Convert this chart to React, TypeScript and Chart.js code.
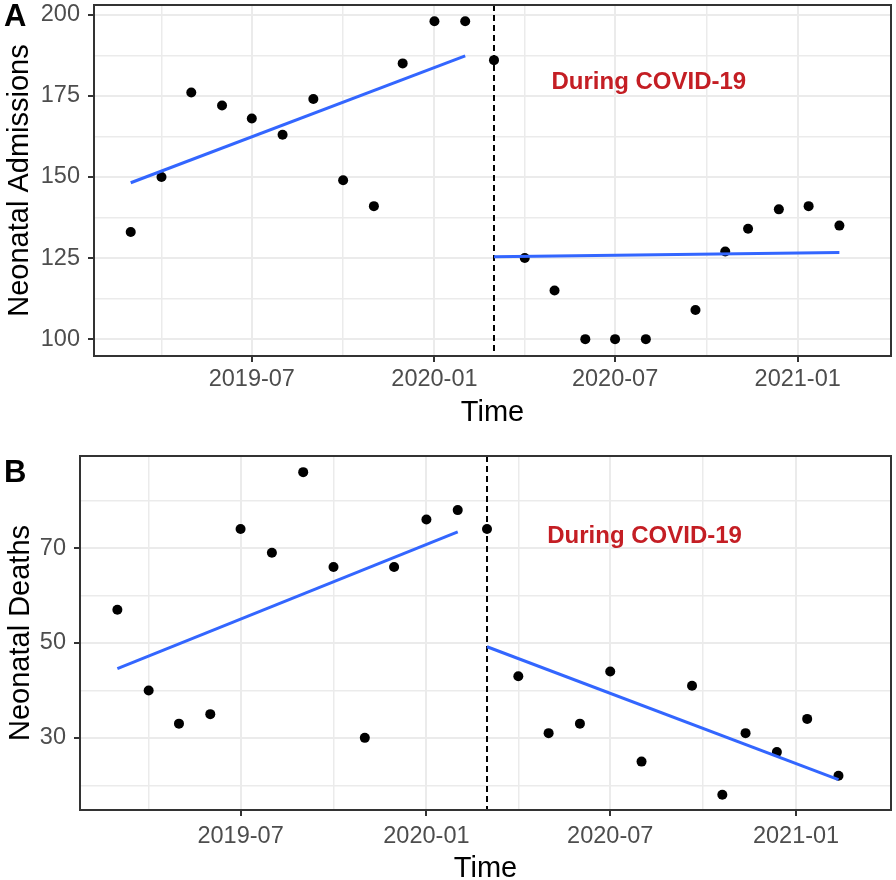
import React, { useEffect, useRef } from 'react';
import { Chart, registerables } from 'chart.js';

Chart.register(...registerables);

// ---------- data ----------
const dates = [
  '2019-03-01', '2019-04-01', '2019-05-01', '2019-06-01', '2019-07-01', '2019-08-01',
  '2019-09-01', '2019-10-01', '2019-11-01', '2019-11-30', '2020-01-01', '2020-02-01',
  '2020-03-01', '2020-04-01', '2020-05-01', '2020-06-01', '2020-07-01', '2020-08-01',
  '2020-09-20', '2020-10-20', '2020-11-12', '2020-12-13', '2021-01-12', '2021-02-12',
];
const admissions = [133, 150, 176, 172, 168, 163, 174, 149, 141, 185, 198, 198, 186, 125, 115, 100, 100, 100, 109, 127, 134, 140, 141, 135];
const deaths = [57, 40, 33, 35, 74, 69, 86, 66, 30, 66, 76, 78, 74, 43, 31, 33, 44, 25, 41, 18, 31, 27, 34, 22];

const trendPreDates = ['2019-03-01', '2020-02-01'];
const trendPostDates = ['2020-03-01', '2021-02-12'];
const admissionsTrendPre = [148.2, 187.3];
const admissionsTrendPost = [125.4, 126.7];
const deathsTrendPre = [44.6, 73.4];
const deathsTrendPost = [49.2, 21.2];

const interruptionDate = '2020-03-01';
const annotationText = 'During COVID-19';
const annotationDate = '2020-08-04';
const admissionsAnnotationY = 179;
const deathsAnnotationY = 72.4;

const xRange = ['2019-01-23', '2021-04-05'];
const xMajorTicks = ['2019-07-01', '2020-01-01', '2020-07-01', '2021-01-01'];
const xMajorLabels = ['2019-07', '2020-01', '2020-07', '2021-01'];
const xMinorTicks = ['2019-04-01', '2019-10-01', '2020-04-01', '2020-10-01'];

const admissionsRange = [94.8, 203];
const admissionsMajorTicks = [100, 125, 150, 175, 200];
const admissionsMinorTicks = [112.5, 137.5, 162.5, 187.5];

const deathsRange = [14.8, 89.4];
const deathsMajorTicks = [30, 50, 70];
const deathsMinorTicks = [20, 40, 60, 80];

// ---------- helpers ----------
const toDay = (s: string) => {
  const [y, m, d] = s.split('-').map(Number);
  return Date.UTC(y, m - 1, d) / 86400000;
};

const FONT = "'Liberation Sans', Arial, Helvetica, sans-serif";

const decorPlugin = {
  id: 'decor',
  beforeDatasetsDraw(chart: any, _args: any, opts: any) {
    const { ctx, chartArea: a, scales } = chart;
    const px = scales.x.getPixelForValue(toDay(opts.vline));
    ctx.save();
    ctx.strokeStyle = '#000';
    ctx.lineWidth = 2;
    ctx.setLineDash([6, 4]);
    ctx.beginPath();
    ctx.moveTo(px, a.top);
    ctx.lineTo(px, a.bottom);
    ctx.stroke();
    ctx.restore();
  },
  afterDraw(chart: any, _args: any, opts: any) {
    const { ctx, chartArea: a, scales } = chart;
    ctx.save();
    // annotation
    ctx.fillStyle = '#C41E24';
    ctx.font = `bold 24px ${FONT}`;
    ctx.textAlign = 'center';
    ctx.textBaseline = 'middle';
    ctx.fillText(opts.text, scales.x.getPixelForValue(toDay(opts.textDate)), scales.y.getPixelForValue(opts.textY));
    // panel border
    ctx.strokeStyle = '#333333';
    ctx.lineWidth = 2;
    ctx.strokeRect(a.left, a.top, a.right - a.left, a.bottom - a.top);
    // panel tag
    ctx.fillStyle = '#000';
    ctx.font = `bold 31px ${FONT}`;
    ctx.textAlign = 'left';
    ctx.fillText(opts.tag, 4, opts.tagY);
    ctx.restore();
  },
};

type PanelCfg = {
  values: number[];
  trendPre: number[];
  trendPost: number[];
  yRange: number[];
  yMajor: number[];
  yMinor: number[];
  yTitle: string;
  tag: string;
  tagY: number;
  textY: number;
  padTop: number;
  yAxisWidth: number;
  xAxisHeight: number;
  xTickPad: number;
  xTitlePad: number;
  yTitlePad: number;
};

function buildChart(canvas: HTMLCanvasElement, p: PanelCfg) {
  const xMinorSet = new Set(xMinorTicks.map(toDay));
  const xLabelMap = new Map<number, string>();
  xMajorTicks.forEach((d, i) => xLabelMap.set(toDay(d), xMajorLabels[i]));
  const yMinorSet = new Set(p.yMinor);
  const yMajorSet = new Set(p.yMajor);

  const points = dates.map((d, i) => ({ x: toDay(d), y: p.values[i] }));
  const pre = trendPreDates.map((d, i) => ({ x: toDay(d), y: p.trendPre[i] }));
  const post = trendPostDates.map((d, i) => ({ x: toDay(d), y: p.trendPost[i] }));

  const gridCommon = (minorSet: Set<number>) => ({
    color: '#EBEBEB',
    lineWidth: (c: any) => (c.tick && minorSet.has(c.tick.value) ? 1.5 : 2),
    tickColor: (c: any) => (c.tick && minorSet.has(c.tick.value) ? 'rgba(0,0,0,0)' : '#333333'),
    tickWidth: 2,
    tickLength: 6,
    drawTicks: true,
    drawOnChartArea: true,
  });

  return new Chart(canvas, {
    type: 'scatter',
    data: {
      datasets: [
        { type: 'line', data: pre, borderColor: '#3366FF', borderWidth: 3, pointRadius: 0, showLine: true, fill: false },
        { type: 'line', data: post, borderColor: '#3366FF', borderWidth: 3, pointRadius: 0, showLine: true, fill: false },
        { data: points, backgroundColor: '#000', borderWidth: 0, pointRadius: 5, pointHoverRadius: 5 },
      ] as any,
    },
    options: {
      animation: false,
      responsive: false,
      devicePixelRatio: 1,
      events: [],
      layout: { padding: { top: p.padTop, right: 1, left: 0, bottom: 0 } },
      plugins: {
        legend: { display: false },
        tooltip: { enabled: false },
        decor: {
          vline: interruptionDate,
          text: annotationText,
          textDate: annotationDate,
          textY: p.textY,
          tag: p.tag,
          tagY: p.tagY,
        },
      } as any,
      scales: {
        x: {
          type: 'linear',
          min: toDay(xRange[0]),
          max: toDay(xRange[1]),
          bounds: 'data',
          afterBuildTicks: (s: any) => {
            s.ticks = [...xMinorTicks, ...xMajorTicks].map(toDay).sort((a, b) => a - b).map((v) => ({ value: v }));
          },
          afterFit: (s: any) => {
            s.height = p.xAxisHeight;
            s.paddingLeft = 0;
            s.paddingRight = 0;
          },
          grid: gridCommon(xMinorSet) as any,
          border: { display: false },
          ticks: {
            autoSkip: false,
            maxRotation: 0,
            minRotation: 0,
            padding: p.xTickPad,
            color: '#4D4D4D',
            font: { family: FONT, size: 23.5 },
            callback: (v: any) => xLabelMap.get(Number(v)) ?? '',
          },
          title: {
            display: true,
            text: 'Time',
            color: '#000',
            font: { family: FONT, size: 29, lineHeight: 0.5 },
            padding: { top: 0, bottom: p.xTitlePad },
          },
        },
        y: {
          type: 'linear',
          min: p.yRange[0],
          max: p.yRange[1],
          bounds: 'data',
          afterBuildTicks: (s: any) => {
            s.ticks = [...p.yMinor, ...p.yMajor].sort((a, b) => a - b).map((v) => ({ value: v }));
          },
          afterFit: (s: any) => {
            s.width = p.yAxisWidth;
            s.paddingTop = 0;
            s.paddingBottom = 0;
          },
          grid: gridCommon(yMinorSet) as any,
          border: { display: false },
          ticks: {
            autoSkip: false,
            padding: 8,
            color: '#4D4D4D',
            font: { family: FONT, size: 23.5 },
            callback: (v: any) => (yMajorSet.has(Number(v)) ? String(v) : ''),
          },
          title: {
            display: true,
            text: p.yTitle,
            color: '#000',
            font: { family: FONT, size: 29, lineHeight: 1 },
            padding: { top: p.yTitlePad, bottom: 0 },
          },
        },
      },
    } as any,
    plugins: [decorPlugin],
  });
}

const panelA: PanelCfg = {
  values: admissions,
  trendPre: admissionsTrendPre,
  trendPost: admissionsTrendPost,
  yRange: admissionsRange,
  yMajor: admissionsMajorTicks,
  yMinor: admissionsMinorTicks,
  yTitle: 'Neonatal Admissions',
  tag: 'A',
  tagY: 17,
  textY: admissionsAnnotationY,
  padTop: 1,
  yAxisWidth: 94,
  xAxisHeight: 84,
  xTickPad: 3.5,
  xTitlePad: 20,
  yTitlePad: 5,
};

const panelB: PanelCfg = {
  values: deaths,
  trendPre: deathsTrendPre,
  trendPost: deathsTrendPost,
  yRange: deathsRange,
  yMajor: deathsMajorTicks,
  yMinor: deathsMinorTicks,
  yTitle: 'Neonatal Deaths',
  tag: 'B',
  tagY: 33,
  textY: deathsAnnotationY,
  padTop: 16,
  yAxisWidth: 80,
  xAxisHeight: 70,
  xTickPad: 6,
  xTitlePad: 4,
  yTitlePad: 6.5,
};

function Panel({ cfg, top }: { cfg: PanelCfg; top: number }) {
  const ref = useRef<HTMLCanvasElement>(null);
  useEffect(() => {
    if (!ref.current) return;
    const chart = buildChart(ref.current, cfg);
    return () => chart.destroy();
  }, [cfg]);
  return (
    <canvas
      ref={ref}
      width={896}
      height={440}
      style={{ position: 'absolute', left: 0, top, width: 896, height: 440, display: 'block' }}
    />
  );
}

export default function App() {
  return (
    <div style={{ position: 'absolute', left: 0, top: 0, width: 896, height: 880, background: '#fff', overflow: 'hidden' }}>
      <Panel cfg={panelA} top={0} />
      <Panel cfg={panelB} top={440} />
    </div>
  );
}
